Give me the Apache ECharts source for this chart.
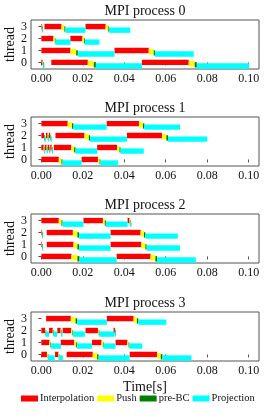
<!DOCTYPE html>
<html>
<head>
<meta charset="utf-8">
<script src="https://cdn.jsdelivr.net/npm/echarts@6/dist/echarts.min.js"></script>
<style>
html,body{margin:0;padding:0;background:#fff;}
#chart{width:270px;height:419px;}
</style>
</head>
<body>
<div id="chart"></div>
<script>
// Phases and colours
const phases = ['Interpolation', 'Push', 'pre-BC', 'Projection'];
const phaseColors = ['#ff0000', '#ffff00', '#008000', '#00ffff'];
const processTitles = ['MPI process 0', 'MPI process 1', 'MPI process 2', 'MPI process 3'];
const xTicks = [0, 0.02, 0.04, 0.06, 0.08, 0.10];
const yTicks = [0, 1, 2, 3];

// Each cycle: [interpStart, pushStart, preBCStart, projStart, projEnd]; index of list = thread
const proc0 = [
  [[0, 0.0006, 0.0009, 0.001, 0.0015], [0.0048, 0.0224, 0.0253, 0.0263, 0.0485], [0.0485, 0.0711, 0.074, 0.075, 0.1002]],
  [[0, 0.014, 0.0168, 0.0176, 0.0353], [0.0353, 0.0518, 0.0542, 0.0548, 0.0735]],
  [[0, 0.0058, 0.0065, 0.0068, 0.014], [0.014, 0.0198, 0.0206, 0.021, 0.028]],
  [[0, 0.0002, 0.0003, 0.0003, 0.0006], [0.0015, 0.0097, 0.0111, 0.0116, 0.0213], [0.0213, 0.031, 0.0323, 0.0326, 0.0429]]
];
const proc1 = [
  [[0, 0.0084, 0.0097, 0.0102, 0.0194], [0.0194, 0.0273, 0.0281, 0.0285, 0.0369]],
  [[0, 0.0011, 0.0012, 0.0013, 0.0016], [0.0016, 0.0025, 0.0026, 0.0027, 0.003], [0.003, 0.0038, 0.0039, 0.004, 0.0043], [0.0043, 0.005, 0.0051, 0.0052, 0.0055], [0.006, 0.0144, 0.0158, 0.0165, 0.0269], [0.0269, 0.0365, 0.0377, 0.0382, 0.0494]],
  [[0, 0.0013, 0.0014, 0.0015, 0.0022], [0.0022, 0.003, 0.0031, 0.0032, 0.0036], [0.0036, 0.0043, 0.0044, 0.0045, 0.005], [0.0068, 0.0208, 0.0229, 0.0235, 0.0413], [0.0413, 0.0582, 0.0603, 0.0611, 0.08]],
  [[0, 0.0127, 0.0148, 0.0155, 0.0315], [0.0315, 0.0471, 0.049, 0.0497, 0.0669]]
];
const proc2 = [
  [[0, 0.0145, 0.0174, 0.0184, 0.0363], [0.0363, 0.0527, 0.055, 0.0558, 0.0745]],
  [[0, 0.0002, 0.0003, 0.0003, 0.0005], [0.0026, 0.0155, 0.0174, 0.0182, 0.0334], [0.0334, 0.0482, 0.0502, 0.0508, 0.0669]],
  [[0, 0.0002, 0.0003, 0.0003, 0.0005], [0.0026, 0.0152, 0.0174, 0.0182, 0.0334], [0.0334, 0.0479, 0.0495, 0.0502, 0.0658]],
  [[0, 0.0084, 0.0097, 0.0102, 0.0203], [0.0203, 0.0297, 0.0306, 0.0311, 0.0416], [0.0416, 0.0425, 0.0427, 0.0428, 0.0435]]
];
const proc3 = [
  [[0, 0.0027, 0.0031, 0.0032, 0.0064], [0.0066, 0.0082, 0.0084, 0.0085, 0.0104], [0.0122, 0.0248, 0.0269, 0.0276, 0.0426], [0.0426, 0.0558, 0.0576, 0.0584, 0.0724]],
  [[0, 0.0039, 0.0044, 0.0047, 0.0094], [0.0094, 0.0158, 0.0168, 0.0173, 0.0244], [0.0244, 0.029, 0.0297, 0.03, 0.0358], [0.0358, 0.0415, 0.0421, 0.0424, 0.0487]],
  [[0, 0.0018, 0.002, 0.0021, 0.0037], [0.0037, 0.0055, 0.0057, 0.0058, 0.0076], [0.0077, 0.0093, 0.0095, 0.0096, 0.0102], [0.0103, 0.0144, 0.015, 0.0153, 0.021], [0.0213, 0.0273, 0.0277, 0.028, 0.0353], [0.0348, 0.0355, 0.0356, 0.0356, 0.0358]],
  [[0.0023, 0.0142, 0.0165, 0.0173, 0.0316], [0.0316, 0.0445, 0.0461, 0.0468, 0.0603]]
];
const processes = [proc0, proc1, proc2, proc3];

// layout
const FONT = 'Liberation Serif';
const gridTops = [20, 117, 214, 312];
const gridLeft = 31, gridWidth = 228, gridHeight = 49;
const phaseOffset = [0, -0.1, -0.2, -0.3];
const barHalf = 0.225;
const axisColor = '#555';

const grids = [], xAxes = [], yAxes = [], series = [], graphics = [];
processes.forEach((proc, p) => {
  grids.push({left: gridLeft, top: gridTops[p], width: gridWidth, height: gridHeight,
    containLabel: false, outerBoundsMode: 'none',
    show: true, borderColor: axisColor, borderWidth: 1, backgroundColor: '#fff'});
  xAxes.push({
    type: 'value', gridIndex: p, min: -0.005, max: 0.105,
    axisLine: {show: false}, splitLine: {show: false},
    axisTick: {show: true, inside: false, length: 3, customValues: xTicks, lineStyle: {color: axisColor}},
    axisLabel: {customValues: xTicks, margin: 4, fontFamily: FONT, fontSize: 12, color: '#111',
      formatter: v => v.toFixed(2)},
    name: p === 3 ? 'Time[s]' : '', nameLocation: 'middle', nameGap: 19, nameMoveOverlap: false,
    nameTextStyle: {fontFamily: FONT, fontSize: 14, color: '#111'}
  });
  yAxes.push({
    type: 'value', gridIndex: p, min: -0.55, max: 3.55,
    axisLine: {show: false}, splitLine: {show: false},
    axisTick: {show: true, inside: false, length: 3, customValues: yTicks, lineStyle: {color: axisColor}},
    axisLabel: {customValues: yTicks, margin: 4, fontFamily: FONT, fontSize: 12, color: '#111'},
    name: 'thread', nameLocation: 'middle', nameGap: 14, nameMoveOverlap: false,
    nameTextStyle: {fontFamily: FONT, fontSize: 14, color: '#111'}
  });
  graphics.push({type: 'text', x: gridLeft + gridWidth / 2, y: gridTops[p] - 9,
    style: {text: processTitles[p], textAlign: 'center', textVerticalAlign: 'middle',
      font: '14px "' + FONT + '"', fill: '#111'}});
  phases.forEach((ph, k) => {
    const data = [];
    proc.forEach((cycles, th) => {
      cycles.forEach(c => data.push([c[k], c[k + 1], th]));
    });
    series.push({
      type: 'custom', name: ph, xAxisIndex: p, yAxisIndex: p,
      itemStyle: {color: phaseColors[k]},
      encode: {x: [0, 1], y: 2},
      data: data,
      renderItem: function (params, api) {
        const s = api.value(0), e = api.value(1), th = api.value(2);
        const yc = th + phaseOffset[k];
        const a = api.coord([s, yc + barHalf]);
        const b = api.coord([e, yc - barHalf]);
        return {type: 'rect', shape: {x: a[0], y: a[1], width: Math.max(b[0] - a[0], 0.7), height: b[1] - a[1]},
          style: {fill: phaseColors[k]}};
      }
    });
  });
});

const chart = echarts.init(document.getElementById('chart'), null, {renderer: 'canvas'});
chart.setOption({
  animation: false,
  backgroundColor: '#fff',
  grid: grids, xAxis: xAxes, yAxis: yAxes, series: series, graphic: graphics,
  legend: {
    data: phases, left: 21, top: 393, itemWidth: 17, itemHeight: 6, itemGap: 3,
    icon: 'rect', padding: 0,
    textStyle: {fontFamily: FONT, fontSize: 10.5, color: '#111', padding: [0, 0, 0, -3]}
  }
});
</script>
</body>
</html>
